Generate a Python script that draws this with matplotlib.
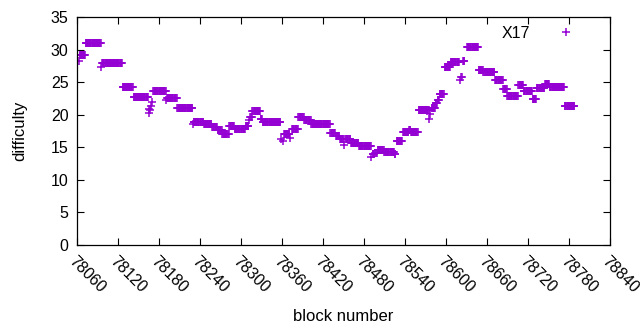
#!/usr/bin/env python

"""Dificuldade por bloco, no estilo gnuplot.
   Os trechos com a mesma dificuldade foram lidos da figura
   como (bloco inicial, bloco final, dificuldade).
"""

import sys
import numpy as np
import matplotlib
matplotlib.use('Agg')
import matplotlib.pyplot as plt

# trechos
seg_start = [78063, 78064, 78073, 78096, 78097, 78127, 78143, 78165, 78166, 78167,
             78168, 78170, 78172, 78191, 78192, 78207, 78230, 78231, 78246, 78258,
             78266, 78273, 78283, 78291, 78307, 78312, 78314, 78317, 78329, 78332,
             78359, 78361, 78363, 78372, 78375, 78384, 78393, 78403, 78431, 78439,
             78445, 78451, 78453, 78461, 78473, 78491, 78493, 78497, 78500, 78510,
             78525, 78528, 78537, 78546, 78549, 78560, 78576, 78577, 78579, 78585,
             78588, 78591, 78598, 78607, 78620, 78622, 78625, 78631, 78648, 78655,
             78672, 78684, 78690, 78706, 78714, 78727, 78733, 78745, 78752, 78774]
seg_end = [78063, 78072, 78095, 78096, 78126, 78142, 78164, 78165, 78166, 78167,
           78168, 78170, 78190, 78191, 78206, 78229, 78230, 78245, 78257, 78265,
           78272, 78282, 78290, 78306, 78311, 78312, 78316, 78328, 78331, 78358,
           78359, 78361, 78371, 78372, 78383, 78392, 78402, 78430, 78438, 78444,
           78450, 78451, 78460, 78472, 78490, 78491, 78495, 78499, 78509, 78524,
           78526, 78536, 78545, 78548, 78559, 78575, 78576, 78577, 78584, 78587,
           78590, 78597, 78606, 78619, 78620, 78623, 78627, 78647, 78654, 78671,
           78683, 78689, 78705, 78713, 78726, 78732, 78744, 78751, 78773, 78788]
seg_diff = [28.2, 29.2, 31.1, 27.3, 28.0, 24.3, 22.8, 20.9, 20.3, 20.7,
            21.3, 21.9, 23.6, 22.2, 22.6, 21.0, 18.6, 18.9, 18.6, 18.1,
            17.6, 17.1, 18.3, 17.8, 18.2, 19.2, 19.6, 20.5, 19.3, 18.9,
            16.3, 16.0, 17.0, 16.4, 17.8, 19.7, 19.2, 18.6, 17.2, 16.8,
            16.2, 15.4, 16.3, 15.6, 15.2, 13.5, 13.9, 14.1, 14.6, 14.3,
            13.9, 16.0, 17.3, 17.7, 17.4, 20.8, 19.3, 20.1, 21.0, 21.8,
            22.3, 23.2, 27.4, 28.1, 25.3, 25.8, 28.2, 30.4, 26.9, 26.5,
            25.4, 23.9, 22.9, 24.6, 23.6, 22.4, 24.1, 24.8, 24.3, 21.3]

x_ticks = list(range(78060, 78841, 60))
y_ticks = list(range(0, 36, 5))


def main(arguments):
    plt.rcParams['font.family'] = ['Liberation Sans', 'DejaVu Sans']

    # um ponto por bloco em cada trecho
    blocos = []
    dif = []
    for a, b, d in zip(seg_start, seg_end, seg_diff):
        for n in range(a, b + 1):
            blocos.append(n)
            dif.append(d)

    fig = plt.figure(figsize=(6.4, 3.3), dpi=100)
    ax = fig.add_axes([0.120, 0.258, 0.833, 0.690])

    ax.plot(blocos, dif, linestyle='none', marker='+', markersize=5.2,
            markeredgewidth=1.1, color='#9400d3', label='X17')

    ax.set_xlim(78060, 78840)
    ax.set_ylim(0, 35)
    ax.set_xticks(x_ticks)
    ax.set_yticks(y_ticks)
    ax.set_xticklabels([str(t) for t in x_ticks], rotation=-45, ha='left',
                       va='top', rotation_mode='anchor')
    ax.tick_params(direction='in', length=5, width=0.8, top=True, right=True,
                   labelsize=11.5, pad=6)
    ax.tick_params(axis='x', pad=6)
    for s in ax.spines.values():
        s.set_linewidth(0.9)

    ax.set_xlabel('block number', fontsize=12, labelpad=10)
    ax.set_ylabel('difficulty', fontsize=12, labelpad=17)

    ax.legend(loc='upper right', markerfirst=False, frameon=False, fontsize=11.5,
              handlelength=2.5, handletextpad=1.0, borderaxespad=0.3,
              bbox_to_anchor=(0.976, 1.012))

    fig.savefig('out.png', dpi=100)


if __name__ == '__main__':
    sys.exit(main(sys.argv[1:]))
